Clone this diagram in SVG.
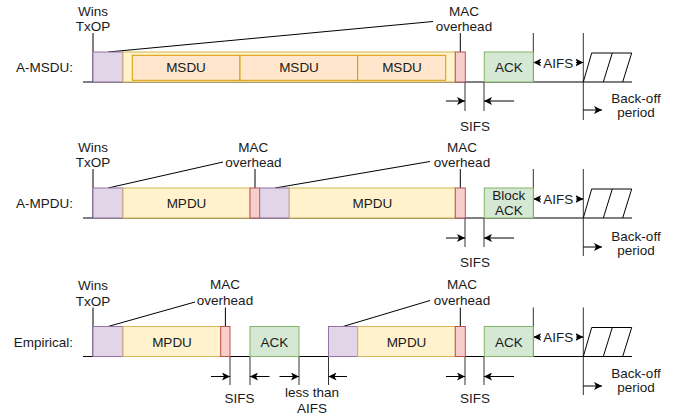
<svg xmlns="http://www.w3.org/2000/svg" width="678" height="420" viewBox="0 0 678 420">
<style>
text{font-family:"Liberation Sans",Arial,sans-serif;font-size:13.5px;fill:#1a1a1a}
.c{text-anchor:middle}
.r{text-anchor:end}
.ln{stroke:#000;stroke-width:1;fill:none}
.tk{stroke:#333;stroke-width:1;fill:none}
.pu{fill:#e1d5e7;stroke:#9673a6;stroke-width:1}
.ye{fill:#fff2cc;stroke:#d6b656;stroke-width:1}
.or{fill:#ffe6cc;stroke:#d79b00;stroke-width:1}
.rd{fill:#f8cecc;stroke:#b85450;stroke-width:1}
.gr{fill:#d5e8d4;stroke:#82b366;stroke-width:1}
.ar{stroke:#000;stroke-width:1;fill:none;marker-end:url(#ah)}
.da{stroke:#000;stroke-width:1;fill:none;marker-end:url(#ah);marker-start:url(#as)}
</style>
<defs>
<marker id="ah" viewBox="0 0 8 8" refX="8" refY="4" markerWidth="8" markerHeight="8" markerUnits="userSpaceOnUse" orient="auto"><path d="M0,0 L8,4 L0,8 L2,4 Z" fill="#000"/></marker>
<marker id="as" viewBox="0 0 8 8" refX="0" refY="4" markerWidth="8" markerHeight="8" markerUnits="userSpaceOnUse" orient="auto"><path d="M8,0 L0,4 L8,8 L6,4 Z" fill="#000"/></marker>
</defs>

<!-- Row labels -->
<g id="lbl-amsdu"><text class="r" x="73" y="72">A-MSDU:</text></g>
<g id="lbl-ampdu"><text class="r" x="73" y="208">A-MPDU:</text></g>
<g id="lbl-emp"><text class="r" x="73" y="346.5">Empirical:</text></g>

<!-- Connectors (timelines, ticks, arrows, leader lines) -->
<g id="connectors">
  <!-- Row 1 -->
  <path class="ln" d="M83,82 H632"/>
  <path class="ln" d="M93,33 V82"/>
  <path class="ln" d="M460.3,33 V52"/>
  <path class="ln" d="M108,52 L433,21.5"/>
  <path class="tk" d="M465,82 V111 M484,82 V111"/>
  <path class="ar" d="M446,101 H465"/>
  <path class="ar" d="M514,101 H484"/>
  <path class="tk" d="M533.3,33 V82 M583.3,33 V120"/>
  <path class="da" d="M533.3,62.5 H583.3"/>
  <path class="ar" d="M583.3,110 H602"/>
  <path class="ln" d="M591.7,53 H631.7 M591.7,53 L583.3,82 M612.3,53 L603.3,82 M631.7,53 L622.7,82"/>

  <!-- Row 2 -->
  <path class="ln" d="M83,218 H632"/>
  <path class="ln" d="M93,169 V218"/>
  <path class="ln" d="M255,169 V188"/>
  <path class="ln" d="M460.3,169 V188"/>
  <path class="ln" d="M108,188 L223,162"/>
  <path class="ln" d="M275,188 L430,161.5"/>
  <path class="tk" d="M465,218 V247 M484,218 V247"/>
  <path class="ar" d="M446,238 H465"/>
  <path class="ar" d="M514,238 H484"/>
  <path class="tk" d="M533.3,169 V218 M583.3,169 V256"/>
  <path class="da" d="M533.3,199 H583.3"/>
  <path class="ar" d="M583.3,247 H602"/>
  <path class="ln" d="M591.7,189 H631.7 M591.7,189 L583.3,218 M612.3,189 L603.3,218 M631.7,189 L622.7,218"/>

  <!-- Row 3 -->
  <path class="ln" d="M83,356.5 H632"/>
  <path class="ln" d="M93,307.5 V356.5"/>
  <path class="ln" d="M225.4,307.5 V326.5"/>
  <path class="ln" d="M460.3,307.5 V326.5"/>
  <path class="ln" d="M108,326.5 L195,302"/>
  <path class="ln" d="M343,326.5 L430,300.5"/>
  <path class="tk" d="M230,356.5 V385 M250,356.5 V385 M299,356.5 V385 M328.5,356.5 V385"/>
  <path class="ar" d="M211,376.5 H230"/>
  <path class="ar" d="M269.5,376.5 H250"/>
  <path class="ar" d="M279.5,376.5 H299"/>
  <path class="ar" d="M347,376.5 H328.5"/>
  <path class="tk" d="M465,356.5 V385 M484,356.5 V385"/>
  <path class="ar" d="M446,376.5 H465"/>
  <path class="ar" d="M514,376.5 H484"/>
  <path class="tk" d="M533.3,307.5 V356.5 M583.3,307.5 V395"/>
  <path class="da" d="M533.3,337 H583.3"/>
  <path class="ar" d="M583.3,386 H602"/>
  <path class="ln" d="M591.7,327.5 H631.7 M591.7,327.5 L583.3,356.5 M612.3,327.5 L603.3,356.5 M631.7,327.5 L622.7,356.5"/>
</g>

<!-- Row 1 nodes -->
<g id="r1-txop"><rect class="pu" x="93" y="52" width="30" height="30"/></g>
<g id="r1-amsdu"><rect class="ye" x="123" y="52" width="332.3" height="30"/></g>
<g id="r1-msdu1"><rect class="or" x="132.3" y="55.3" width="107.7" height="25"/><text class="c" x="186" y="72">MSDU</text></g>
<g id="r1-msdu2"><rect class="or" x="240" y="55.3" width="117.7" height="25"/><text class="c" x="299" y="72">MSDU</text></g>
<g id="r1-msdu3"><rect class="or" x="357.7" y="55.3" width="88" height="25"/><text class="c" x="402" y="72">MSDU</text></g>
<g id="r1-mac"><rect class="rd" x="455.3" y="52" width="10" height="30"/></g>
<g id="r1-ack"><rect class="gr" x="484.3" y="52" width="49" height="30"/><text class="c" x="508.8" y="72">ACK</text></g>
<g id="r1-wins"><text class="c" x="93" y="15.5">Wins</text><text class="c" x="93" y="31">TxOP</text></g>
<g id="r1-maclbl"><text class="c" x="464" y="15.5">MAC</text><text class="c" x="464" y="31">overhead</text></g>
<g id="r1-sifs"><text class="c" x="475" y="131">SIFS</text></g>
<g id="r1-aifs"><rect x="541" y="54" width="35" height="16" fill="#fff"/><text class="c" x="558.3" y="67.5">AIFS</text></g>
<g id="r1-backoff"><text class="c" x="636" y="103">Back-off</text><text class="c" x="636" y="116.5">period</text></g>

<!-- Row 2 nodes -->
<g id="r2-txop1"><rect class="pu" x="93" y="188" width="30" height="30"/></g>
<g id="r2-mpdu1"><rect class="ye" x="123" y="188" width="127" height="30"/><text class="c" x="186.5" y="208">MPDU</text></g>
<g id="r2-mac1"><rect class="rd" x="250" y="188" width="9.7" height="30"/></g>
<g id="r2-txop2"><rect class="pu" x="259.7" y="188" width="29.6" height="30"/></g>
<g id="r2-mpdu2"><rect class="ye" x="289.3" y="188" width="166" height="30"/><text class="c" x="372.3" y="208">MPDU</text></g>
<g id="r2-mac2"><rect class="rd" x="455.3" y="188" width="10" height="30"/></g>
<g id="r2-back"><rect class="gr" x="484.3" y="188" width="49" height="30"/><text class="c" x="508.8" y="200">Block</text><text class="c" x="508.8" y="215">ACK</text></g>
<g id="r2-wins"><text class="c" x="93" y="151.5">Wins</text><text class="c" x="93" y="167">TxOP</text></g>
<g id="r2-maclbl1"><text class="c" x="253.3" y="151.5">MAC</text><text class="c" x="253.3" y="167">overhead</text></g>
<g id="r2-maclbl2"><text class="c" x="462" y="151.5">MAC</text><text class="c" x="462" y="167">overhead</text></g>
<g id="r2-sifs"><text class="c" x="475" y="267">SIFS</text></g>
<g id="r2-aifs"><rect x="541" y="190.5" width="35" height="16" fill="#fff"/><text class="c" x="558.3" y="204">AIFS</text></g>
<g id="r2-backoff"><text class="c" x="636" y="241">Back-off</text><text class="c" x="636" y="255">period</text></g>

<!-- Row 3 nodes -->
<g id="r3-txop1"><rect class="pu" x="93" y="326.5" width="30" height="30"/></g>
<g id="r3-mpdu1"><rect class="ye" x="123" y="326.5" width="97.7" height="30"/><text class="c" x="172" y="346.5">MPDU</text></g>
<g id="r3-mac1"><rect class="rd" x="220.7" y="326.5" width="9.3" height="30"/></g>
<g id="r3-ack1"><rect class="gr" x="250" y="326.5" width="49" height="30"/><text class="c" x="274.5" y="346.5">ACK</text></g>
<g id="r3-txop2"><rect class="pu" x="328.5" y="326.5" width="29.2" height="30"/></g>
<g id="r3-mpdu2"><rect class="ye" x="357.7" y="326.5" width="97.6" height="30"/><text class="c" x="406.5" y="346.5">MPDU</text></g>
<g id="r3-mac2"><rect class="rd" x="455.3" y="326.5" width="10" height="30"/></g>
<g id="r3-ack2"><rect class="gr" x="484.3" y="326.5" width="49" height="30"/><text class="c" x="508.8" y="346.5">ACK</text></g>
<g id="r3-wins"><text class="c" x="93" y="290">Wins</text><text class="c" x="93" y="305.5">TxOP</text></g>
<g id="r3-maclbl1"><text class="c" x="225" y="289">MAC</text><text class="c" x="225" y="304.5">overhead</text></g>
<g id="r3-maclbl2"><text class="c" x="462" y="289">MAC</text><text class="c" x="462" y="304.5">overhead</text></g>
<g id="r3-sifs1"><text class="c" x="239.5" y="403">SIFS</text></g>
<g id="r3-less"><text class="c" x="312" y="397">less than</text><text class="c" x="312" y="413">AIFS</text></g>
<g id="r3-sifs2"><text class="c" x="475" y="403">SIFS</text></g>
<g id="r3-aifs"><rect x="541" y="328.5" width="35" height="16" fill="#fff"/><text class="c" x="558.3" y="342">AIFS</text></g>
<g id="r3-backoff"><text class="c" x="636" y="378">Back-off</text><text class="c" x="636" y="392">period</text></g>
</svg>
